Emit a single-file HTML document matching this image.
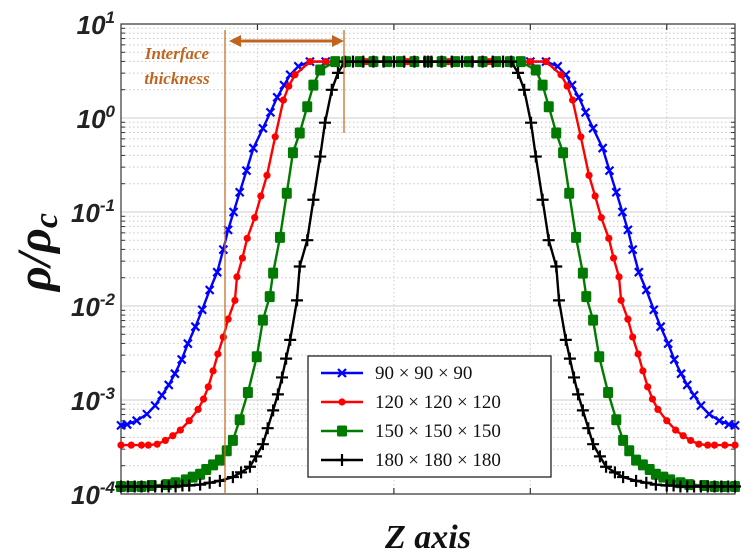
<!DOCTYPE html>
<html><head><meta charset="utf-8"><style>
body{margin:0;background:#fff}
svg{display:block}
</style></head><body>
<svg id="chart" width="750" height="554" viewBox="0 0 750 554" xmlns="http://www.w3.org/2000/svg">
<g id="grid"></g>
<g id="axes"></g>
<g id="series"></g>
<g id="annot">
  <line x1="225" y1="30" x2="225" y2="494" stroke="#c8702a" stroke-width="1.3"/>
  <line x1="344" y1="30" x2="344" y2="133" stroke="#c8702a" stroke-width="1.3"/>
  <line x1="238" y1="41" x2="335" y2="41" stroke="#c0651f" stroke-width="3"/>
  <polygon points="229,41 241,35 241,47" fill="#c0651f"/>
  <polygon points="344,41 332,35 332,47" fill="#c0651f"/>
  <text x="177" y="59" text-anchor="middle" font-family="Liberation Serif, serif" font-style="italic" font-weight="bold" font-size="17" fill="#c0651f">Interface</text>
  <text x="177" y="84" text-anchor="middle" font-family="Liberation Serif, serif" font-style="italic" font-weight="bold" font-size="17" fill="#c0651f">thickness</text>
</g>
<g id="legend"></g>
<text x="428" y="548" text-anchor="middle" font-family="Liberation Serif, serif" font-style="italic" font-weight="bold" font-size="34" fill="#111">Z axis</text>
<text transform="translate(50,252) rotate(-90)" text-anchor="middle" font-family="Liberation Serif, serif" font-style="italic" font-weight="bold" font-size="48" fill="#111">ρ/ρ<tspan font-size="34" dy="7">c</tspan></text>
</svg>
<script>
const xTicks=[20,40,60,80];
const yExps=[1,0,-1,-2,-3,-4];
const seriesNames=["90 × 90 × 90","120 × 120 × 120","150 × 150 × 150","180 × 180 × 180"];
const seriesColors=["#0000ff","#ff0000","#007a00","#000000"];
const seriesMarkers=["x","o","s","+"];
// left-half samples (profile is symmetric about z=45); values are log10(rho/rho_c)
const zBlue=[0,0.9,2.3,3.8,5,6,7,7.9,8.9,9.8,10.9,11.9,13,14.1,15,15.7,16.5,17.4,18.4,19.4,20.8,21.9,22.9,23.9,24.8,26,27.7,30,33,36,39,42,45];
const logBlue=[-3.27,-3.26,-3.22,-3.15,-3.06,-2.95,-2.84,-2.72,-2.57,-2.40,-2.22,-2.04,-1.83,-1.64,-1.40,-1.19,-1.00,-0.79,-0.56,-0.32,-0.11,0.06,0.22,0.35,0.46,0.55,0.6,0.6,0.6,0.6,0.6,0.6,0.6];
const zRed=[0,1.5,3,4,5.3,6.5,7.6,8.7,10,11.3,12.1,12.8,13.5,14.2,15,15.7,16.7,17,17.8,18.5,19.6,20.5,21.4,22.6,23.8,24.6,25.5,27.7,30,33,36,39,42,45];
const logRed=[-3.48,-3.48,-3.48,-3.48,-3.47,-3.43,-3.38,-3.32,-3.22,-3.10,-2.99,-2.86,-2.69,-2.51,-2.33,-2.14,-1.94,-1.69,-1.49,-1.28,-1.06,-0.83,-0.61,-0.20,0.19,0.34,0.46,0.6,0.6,0.6,0.6,0.6,0.6,0.6];
const zGreen=[0,1.5,3,4.5,6.7,8,9.5,10.5,11.6,12.5,13.5,14.5,15.5,16.4,17.4,18.6,19.9,20.8,21.8,22.3,23.3,24.3,25.2,26.2,27.3,28.2,29.2,31.4,33,35,37,39,41,43,45];
const logGreen=[-3.92,-3.92,-3.92,-3.91,-3.90,-3.88,-3.85,-3.82,-3.79,-3.74,-3.69,-3.64,-3.54,-3.43,-3.21,-2.92,-2.54,-2.15,-1.90,-1.65,-1.27,-0.80,-0.37,-0.16,0.12,0.35,0.51,0.6,0.6,0.6,0.6,0.6,0.6,0.6,0.6];
const zBlack=[0,1,2,3,4,5,6,7,8,9,10,11.6,13,14.5,16.4,17.6,18.9,19.8,20.8,21.5,22.3,23,23.6,24.2,24.8,25.8,26.2,27.3,28.2,29.2,29.9,30.9,31.8,32.8,34,35.5,37,38.5,40,41.5,43,44.5,45];
const logBlack=[-3.92,-3.92,-3.92,-3.92,-3.92,-3.92,-3.92,-3.92,-3.92,-3.91,-3.91,-3.90,-3.88,-3.86,-3.82,-3.77,-3.71,-3.60,-3.47,-3.30,-3.11,-2.94,-2.76,-2.56,-2.36,-1.94,-1.58,-1.30,-0.87,-0.41,-0.05,0.30,0.48,0.6,0.6,0.6,0.6,0.6,0.6,0.6,0.6,0.6,0.6];
const zArrays=[zBlue,zRed,zGreen,zBlack];
const logArrays=[logBlue,logRed,logGreen,logBlack];

const NS="http://www.w3.org/2000/svg";
const L=121,R=735,T=24,B=494,XMAX=90;
function xs(z){return L+z/XMAX*(R-L);}
function ys(lg){return T+(1-lg)/5*(B-T);}
function mk(tag,attrs,parent){const e=document.createElementNS(NS,tag);for(const k in attrs)e.setAttribute(k,attrs[k]);parent.appendChild(e);return e;}
const grid=document.getElementById('grid'),axes=document.getElementById('axes'),ser=document.getElementById('series'),leg=document.getElementById('legend');

for(let d=1;d>-4;d--){for(let m=2;m<=9;m++){const y=ys(d-1+Math.log10(m));
 const g=mk('line',{x1:L,x2:R,y1:y,y2:y,stroke:'#c8c8c8','stroke-width':1,'stroke-dasharray':'1.5,2.5'},grid);
 
 
 for(const xx of [L,R]){const t=mk('line',{x1:xx,x2:xx+(xx===L?4:-4),y1:y,y2:y,stroke:'#333','stroke-width':1},axes);
  
  }
}}
yExps.forEach(e=>{const y=ys(e);
 const g=mk('line',{x1:L,x2:R,y1:y,y2:y,stroke:'#d8d8d8','stroke-width':1.2},grid);
 
 
 const t=mk('text',{x:L-6,y:y+10,'text-anchor':'end','font-family':'Liberation Sans, sans-serif','font-style':'italic','font-weight':'bold','font-size':26,fill:'#222'},axes);
 
 
 const b=document.createElementNS(NS,'tspan');b.textContent='10';t.appendChild(b);
 const s=document.createElementNS(NS,'tspan');s.setAttribute('dy','-11');s.setAttribute('font-size','17');s.textContent=String(e);t.appendChild(s);
});
xTicks.forEach(v=>{const x=xs(v);
 const g=mk('line',{x1:x,x2:x,y1:T,y2:B,stroke:'#d0d0d0','stroke-width':1,'stroke-dasharray':'1.5,2.5'},grid);
 
 
 for(const yy of [T,B]){const t=mk('line',{x1:x,x2:x,y1:yy,y2:yy+(yy===T?6:-6),stroke:'#333','stroke-width':1.2},axes);
  
  }
});
const frame=mk('rect',{x:L,y:T,width:R-L,height:B-T,fill:'none',stroke:'#444','stroke-width':1.3},axes);



function marker(type,x,y,c,parent,name){
 let el;
 if(type==='x'){el=mk('path',{d:`M${x-4},${y-4}L${x+4},${y+4}M${x-4},${y+4}L${x+4},${y-4}`,stroke:c,'stroke-width':2.2,fill:'none'},parent);}
 else if(type==='o'){el=mk('circle',{cx:x,cy:y,r:3.6,fill:c},parent);}
 else if(type==='s'){el=mk('rect',{x:x-5,y:y-5.5,width:10,height:11,rx:1.5,fill:c},parent);}
 else {el=mk('path',{d:`M${x-6},${y}L${x+6},${y}M${x},${y-6}L${x},${y+6}`,stroke:c,'stroke-width':2.2,fill:'none'},parent);}
 
 
}
seriesNames.forEach((n,i)=>{
 const zs=zArrays[i],ls=logArrays[i];
 const pts=[];
 zs.forEach((z,k)=>pts.push([z,ls[k]]));
 for(let k=zs.length-1;k>=0;k--){if(zs[k]<45)pts.push([XMAX-zs[k],ls[k]]);}
 const g=mk('g',{},ser);
 
 
 const p=mk('polyline',{points:pts.map(q=>xs(q[0]).toFixed(1)+','+ys(q[1]).toFixed(1)).join(' '),fill:'none',stroke:seriesColors[i],'stroke-width':2.4},g);
 
 
 pts.forEach(q=>marker(seriesMarkers[i],xs(q[0]),ys(q[1]),seriesColors[i],g,'data-point'));
});

const box=mk('rect',{x:308,y:356,width:243,height:121,fill:'#fff',stroke:'#222','stroke-width':1.3},leg);


seriesNames.forEach((n,i)=>{const y=373+i*29;
 const g=mk('g',{},leg);
 
 
 const l=mk('line',{x1:321,x2:363,y1:y,y2:y,stroke:seriesColors[i],'stroke-width':2.4},g);
 
 
 marker(seriesMarkers[i],342,y,seriesColors[i],g,'legend-marker');
 const t=mk('text',{x:375,y:y+6,'font-family':'Liberation Serif, serif','font-size':19,fill:'#111'},g);
 
 
 t.textContent=n;
});
</script>
</body></html>
